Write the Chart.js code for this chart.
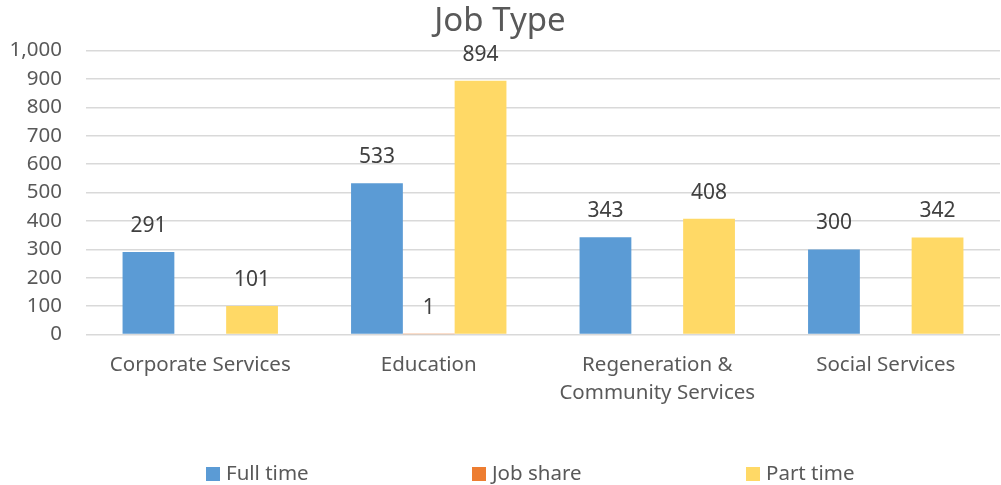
<!DOCTYPE html>
<html>
<head>
<meta charset="utf-8">
<script src="https://cdn.jsdelivr.net/npm/chart.js@4"></script>
<style>
  html, body { margin: 0; padding: 0; background: #fff; }
  #wrap { width: 1001px; height: 485px; }
</style>
</head>
<body>
<div id="wrap"><canvas id="c"></canvas></div>
<script>
const categories = ['Corporate Services', 'Education', ['Regeneration &', 'Community Services'], 'Social Services'];
const fullTime = [291, 533, 343, 300];
const jobShare = [null, 1, null, null];
const partTime = [101, 894, 408, 342];
const yTicks = [0, 100, 200, 300, 400, 500, 600, 700, 800, 900, 1000];

const FONT = "'Noto Sans', 'Open Sans', sans-serif";
const TEXT = '#595959';

// value labels above each bar
const barLabels = {
    id: 'barLabels',
    afterDatasetsDraw(chart) {
        const ctx = chart.ctx;
        ctx.save();
        ctx.font = '21px ' + FONT;
        ctx.fillStyle = '#404040';
        ctx.textAlign = 'center';
        ctx.textBaseline = 'middle';
        chart.data.datasets.forEach((ds, i) => {
            chart.getDatasetMeta(i).data.forEach((bar, j) => {
                const v = ds.data[j];
                if (v == null) return;
                ctx.fillText(v.toLocaleString('en-US'), bar.x, bar.y - 26);
            });
        });
        ctx.restore();
    }
};

// Excel-style legend spread across the bottom
const wideLegend = {
    id: 'wideLegend',
    afterDraw(chart) {
        const ctx = chart.ctx;
        const y = chart.height - 11;
        const starts = [206, 472, 746];
        ctx.save();
        ctx.font = '20.5px ' + FONT;
        ctx.textBaseline = 'middle';
        chart.data.datasets.forEach((ds, i) => {
            const x = starts[i];
            ctx.fillStyle = ds.backgroundColor;
            ctx.fillRect(x, y - 7, 14, 14);
            ctx.fillStyle = TEXT;
            ctx.fillText(ds.label, x + 20, y);
        });
        ctx.restore();
    }
};

new Chart(document.getElementById('c'), {
    type: 'bar',
    data: {
        labels: categories,
        datasets: [
            { label: 'Full time', data: fullTime, backgroundColor: '#5b9bd5' },
            { label: 'Job share', data: jobShare, backgroundColor: '#ed7d31' },
            { label: 'Part time', data: partTime, backgroundColor: '#ffd966' }
        ]
    },
    options: {
        responsive: true,
        maintainAspectRatio: false,
        animation: false,
        categoryPercentage: 0.68,
        barPercentage: 1,
        layout: { padding: { left: 0, right: 1, top: 0, bottom: 61 } },
        plugins: {
            title: {
                display: true,
                text: 'Job Type',
                color: TEXT,
                font: { family: FONT, size: 33, weight: 'normal' },
                padding: { top: 2, bottom: 9 }
            },
            legend: { display: false },
            tooltip: { enabled: false }
        },
        scales: {
            y: {
                min: 0,
                max: 1000,
                afterBuildTicks: axis => { axis.ticks = yTicks.map(v => ({ value: v })); },
                afterFit: axis => { axis.width = 86; },
                border: { display: false },
                grid: { color: '#d9d9d9', lineWidth: 1.5, drawTicks: false },
                ticks: {
                    color: TEXT,
                    font: { family: FONT, size: 20.5 },
                    padding: 24,
                    autoSkip: false,
                    callback: v => v.toLocaleString('en-US')
                }
            },
            x: {
                border: { display: false },
                grid: { display: false, drawTicks: false },
                ticks: {
                    color: TEXT,
                    font: { family: FONT, size: 20.5, lineHeight: 1.4 },
                    padding: 16,
                    maxRotation: 0,
                    autoSkip: false
                }
            }
        }
    },
    plugins: [barLabels, wideLegend]
});
</script>
</body>
</html>
